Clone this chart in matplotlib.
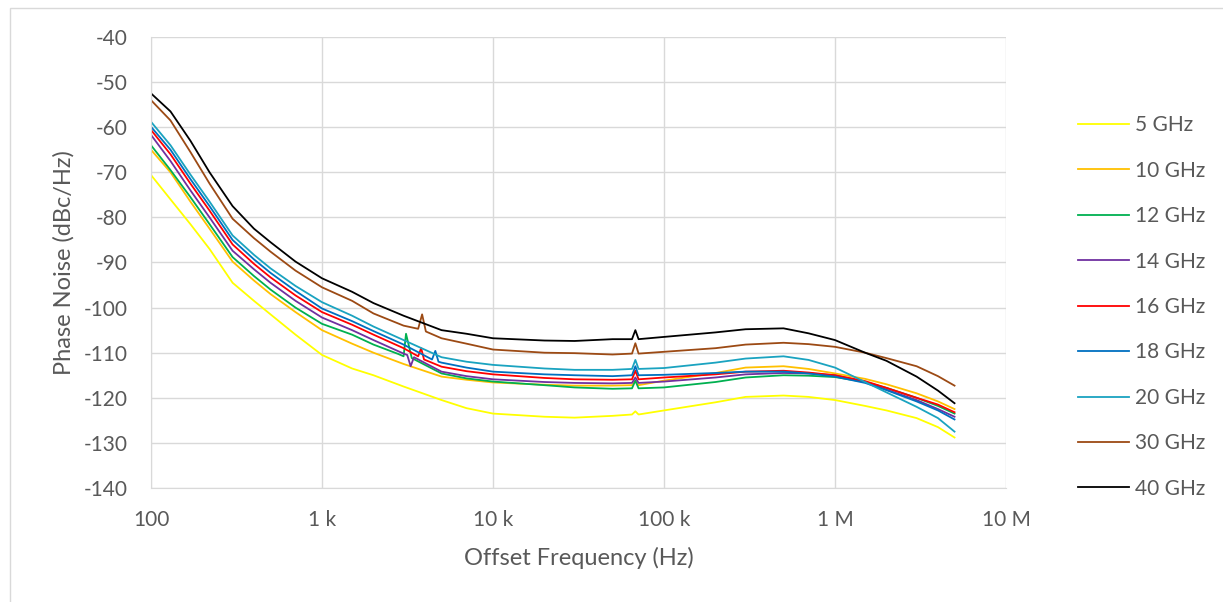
import matplotlib.pyplot as plt
from matplotlib.patches import Rectangle

# offset frequency grid (Hz)
freq = [100, 130, 170, 220, 300, 400, 500, 700, 1e3, 1.5e3, 2e3, 3e3, 5e3, 7e3,
        1e4, 2e4, 3e4, 5e4, 6.5e4, 6.8e4, 7.1e4, 1e5, 2e5, 3e5, 5e5, 7e5,
        1e6, 1.5e6, 2e6, 3e6, 4e6, 5e6]

# phase noise (dBc/Hz)
pn_5g = [-70.6, -76, -81.5, -87, -94.5, -98.5, -101.5, -106, -110.5, -113.5, -115, -117.5, -120.5, -122.3,
         -123.5, -124.2, -124.4, -124, -123.7, -123, -123.7, -122.8, -121, -119.8, -119.5, -119.8,
         -120.5, -121.8, -122.8, -124.5, -126.5, -128.8]
pn_10g = [-65, -70, -76.5, -82.5, -89.8, -94, -97, -101, -105, -108, -110, -112.5, -115.3, -116,
          -116.6, -117.1, -117.3, -117.3, -117.2, -116.2, -117.2, -116.2, -114.5, -113.3, -113, -113.6,
          -114.6, -115.8, -117, -119, -120.8, -122.5]
pn_12g = [-64, -69.5, -75.5, -81.5, -88.8, -93, -96, -100, -103.6, -106, -108.2, -110.8, -114.6, -115.7,
          -116.4, -117.2, -117.7, -118, -117.9, -116.2, -117.9, -117.7, -116.5, -115.5, -115, -115.1,
          -115.4, -116.5, -117.8, -120, -121.8, -123.5]
pn_14g = [-61.7, -67.5, -74, -80, -87.4, -91.5, -94.5, -98.5, -102.2, -105, -107.2, -110.2, -114.2, -115.2,
          -115.9, -116.5, -116.7, -116.8, -116.7, -115.5, -116.7, -116.4, -115.5, -114.8, -114.5, -114.6,
          -115, -116.5, -118.2, -120.5, -122.5, -124.2]
pn_16g = [-60.6, -66, -72.5, -78.5, -86, -90.3, -93.3, -97.3, -101, -103.8, -106, -109, -113.1, -114.1,
          -114.8, -115.6, -115.9, -116, -115.9, -114, -115.9, -115.5, -114.8, -114.2, -114, -114.4,
          -115, -116.3, -117.8, -120, -121.5, -123.2]
pn_18g = [-59.9, -65, -71.5, -77.5, -85, -89.3, -92.3, -96.3, -100.2, -103, -105.2, -108.2, -112.2, -113.3,
          -114.2, -114.8, -115, -115.2, -115, -113, -115, -114.9, -114.5, -114.2, -114.2, -114.6,
          -115.3, -116.7, -118.3, -120.8, -122.8, -124.8]
pn_20g = [-58.8, -64, -70.5, -76.5, -84, -88.3, -91.3, -95.2, -98.8, -101.8, -104.2, -107.2, -111, -112,
          -112.7, -113.5, -113.8, -113.8, -113.6, -111.6, -113.6, -113.4, -112.2, -111.3, -110.8, -111.6,
          -113.3, -116.5, -118.8, -122, -124.5, -127.5]
pn_30g = [-54, -58.5, -65.5, -72.5, -80.3, -84.6, -87.6, -91.8, -95.5, -98.5, -101.3, -104, -106.8, -108,
          -109.3, -110, -110.1, -110.4, -110.2, -107.9, -110.2, -109.8, -109, -108.2, -107.8, -108.1,
          -108.7, -110, -111.2, -113, -115.2, -117.3]
pn_40g = [-52.5, -56.5, -63, -70, -77.5, -82.5, -85.5, -89.8, -93.5, -96.5, -99, -101.8, -105, -105.8,
          -106.8, -107.3, -107.4, -107, -107, -105, -107, -106.5, -105.5, -104.8, -104.6, -105.7,
          -107.2, -110, -111.8, -115.3, -118.4, -121.2]

# narrow spurs around 3-5 kHz (freq, level)
spurs_12g = [(2.8e3, -110.3), (3.1e3, -105.8), (3.35e3, -111.2)]
spurs_14g = [(3.15e3, -110.5), (3.3e3, -113), (3.45e3, -111)]
spurs_16g = [(3.65e3, -110.8), (3.8e3, -109), (3.95e3, -111.5)]
spurs_18g = [(4.4e3, -111.5), (4.6e3, -109.6), (4.8e3, -112)]
spurs_30g = [(3.65e3, -104.7), (3.85e3, -101.5), (4.05e3, -105.3)]

labels = ['5 GHz', '10 GHz', '12 GHz', '14 GHz', '16 GHz', '18 GHz', '20 GHz', '30 GHz', '40 GHz']
colors = ['#FFFF00', '#FFC000', '#00B050', '#7030A0', '#FF0000', '#0070C0', '#1AA3C0', '#9C4A14', '#000000']
series = [pn_5g, pn_10g, pn_12g, pn_14g, pn_16g, pn_18g, pn_20g, pn_30g, pn_40g]
spurs = [[], [], spurs_12g, spurs_14g, spurs_16g, spurs_18g, [], spurs_30g, []]

plt.rcParams['font.family'] = ['Lato', 'DejaVu Sans']
plt.rcParams['axes.unicode_minus'] = False

fig = plt.figure(figsize=(12.23, 6.02), dpi=100)
fig.patches.append(Rectangle((10 / 1223, -0.01), 1.2, 1 - 8 / 602 + 0.01, transform=fig.transFigure,
                             fill=False, edgecolor='#D9D9D9', linewidth=1))
ax = fig.add_axes([151 / 1223, 1 - 488 / 602, 855 / 1223, 451 / 602])

for vals, sp, lab, c in zip(series, spurs, labels, colors):
    pts = sorted(list(zip(freq, vals)) + sp)
    ax.plot([p[0] for p in pts], [p[1] for p in pts], color=c, lw=1.3, label=lab)

ax.set_xscale('log')
ax.set_xlim(100, 1e7)
ax.set_ylim(-140, -40)
ax.set_xticks([1e2, 1e3, 1e4, 1e5, 1e6, 1e7])
ax.set_xticklabels(['100', '1 k', '10 k', '100 k', '1 M', '10 M'])
ax.minorticks_off()
ax.set_yticks(range(-140, -39, 10))
ax.grid(True, color='#D9D9D9', lw=1)
ax.set_axisbelow(True)
for s in ['top', 'right']:
    ax.spines[s].set_visible(False)
for s in ['left', 'bottom']:
    ax.spines[s].set_color('#D9D9D9')
ax.tick_params(length=0, labelsize=15, labelcolor='#595959')
ax.tick_params(axis='y', pad=17)
ax.tick_params(axis='x', pad=16)
ax.set_xlabel('Offset Frequency (Hz)', fontsize=17, color='#595959', labelpad=12)
ax.set_ylabel('Phase Noise (dBc/Hz)', fontsize=17, color='#595959', labelpad=6)

fig.legend(loc='center left', bbox_to_anchor=(1059 / 1223, 1 - 307 / 602), frameon=False,
           fontsize=15, labelcolor='#595959', handlelength=2.45, handletextpad=0.3,
           labelspacing=1.22)

fig.savefig('out.png', dpi=100)
